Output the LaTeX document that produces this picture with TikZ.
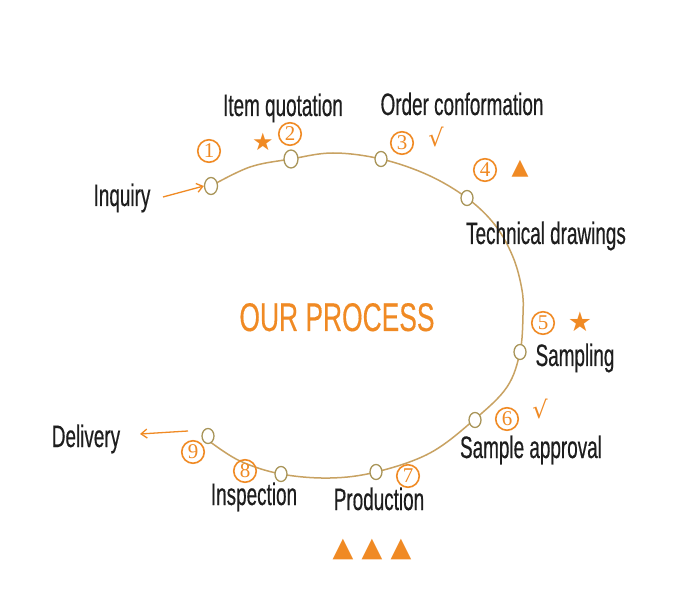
\documentclass[tikz,border=0pt]{standalone}
\usepackage{fontspec}
\setmainfont{Liberation Sans}[FakeStretch=0.61,FakeBold=0.4]
\newfontfamily\titlefont{Liberation Sans}[FakeStretch=0.66,FakeBold=0.3]
\newfontfamily\numfont{Liberation Serif}
\newfontfamily\symfont{DejaVu Sans}
\usetikzlibrary{shapes.geometric,arrows.meta}
\definecolor{procorange}{HTML}{F08A24}
\definecolor{curvecol}{HTML}{C8A262}
\definecolor{dotcol}{HTML}{A89458}
\definecolor{txtcol}{HTML}{1E1E1E}
\tikzset{
  dot/.style={ellipse,draw=dotcol,fill=white,line width=1.3pt,minimum width=12pt,minimum height=15pt,inner sep=0pt},
  numc/.style={circle,draw=procorange,line width=1.6pt,minimum size=22.5pt,inner sep=0pt,text=procorange,font=\numfont\fontsize{21}{21}\selectfont},
  lbl/.style={text=txtcol,font=\fontsize{31}{31}\selectfont,inner sep=0pt,anchor=base},
  sym/.style={text=procorange,font=\symfont\fontsize{22}{22}\selectfont,inner sep=0pt},
  chk/.style={text=procorange,font=\symfont\fontsize{24}{24}\selectfont,inner sep=0pt},
  arr/.style={draw=procorange,line width=1.3pt,-{Straight Barb[length=6pt,width=9pt]}}
}
\begin{document}
\begin{tikzpicture}[x=1pt,y=-1pt]
\useasboundingbox (0,0) rectangle (689,596);
\fill[white] (0,0) rectangle (689,596);
% curve
\draw[curvecol,line width=1.5pt] plot[smooth,tension=0.6] coordinates {
 (211,186) (250,167) (291,159) (333,153) (381,159) (428,175) (467,198)
 (495,225) (513,257) (522,290) (523,315) (520,352) (507,387) (475,419)
 (430,453) (376,472) (330,478) (281,474) (240,461) (209,441)};
% dots
\node[dot,minimum width=13pt,minimum height=17pt] (c1) at (211,186) {};
\node[dot,minimum width=14pt,minimum height=18pt] (c2) at (291,159) {};
\node[dot] (c3) at (381,159) {};
\node[dot] (c4) at (467,198) {};
\node[dot] (c5) at (520,352) {};
\node[dot] (c6) at (475,420) {};
\node[dot] (c7) at (376,472) {};
\node[dot] (c8) at (281,474) {};
\node[dot] (c9) at (208,436) {};
% numbers
\node[numc] (n1) at (209,151) {1};
\node[numc] (n2) at (290,134) {2};
\node[numc] (n3) at (402,143) {3};
\node[numc] (n4) at (485,170) {4};
\node[numc] (n5) at (543,323) {5};
\node[numc] (n6) at (507,419) {6};
\node[numc] (n7) at (408,476) {7};
\node[numc] (n8) at (245,471) {8};
\node[numc] (n9) at (193,452) {9};
% symbols
\node[sym,font=\symfont\fontsize{24}{24}\selectfont] (s2) at (263,142) {★};
\node[chk] (s3) at (436,137) {√};
\node[sym] (s4) at (520,169) {▲};
\node[sym,font=\symfont\fontsize{27}{27}\selectfont] (s5) at (580,322) {★};
\node[chk] (s6) at (540,409) {√};
\node[sym,font=\symfont\fontsize{27}{27}\selectfont] (s7a) at (343,549) {▲};
\node[sym,font=\symfont\fontsize{27}{27}\selectfont] (s7b) at (372,549) {▲};
\node[sym,font=\symfont\fontsize{27}{27}\selectfont] (s7c) at (401,549) {▲};
% labels
\node[lbl] (inq) at (122,206) {Inquiry};
\node[lbl] (quo) at (283,116) {Item quotation};
\node[lbl] (ord) at (462,115) {Order conformation};
\node[lbl] (tec) at (546,244) {Technical drawings};
\node[lbl] (smp) at (575,366) {Sampling};
\node[lbl] (app) at (531,458) {Sample approval};
\node[lbl] (del) at (86,447) {Delivery};
\node[lbl] (ins) at (254,505) {Inspection};
\node[lbl] (pro) at (379,510) {Production};
\node[text=procorange,font=\titlefont\fontsize{40}{40}\selectfont,inner sep=0pt,anchor=base] (title) at (337,331) {OUR PROCESS};
% arrows
\coordinate (dstart) at (188,431);
\coordinate (dend) at (140,434);
\coordinate (istart) at (163,197);
\draw[arr] (istart) -- (c1.west);
\draw[arr] (dstart) -- (dend);
\end{tikzpicture}
\end{document}
